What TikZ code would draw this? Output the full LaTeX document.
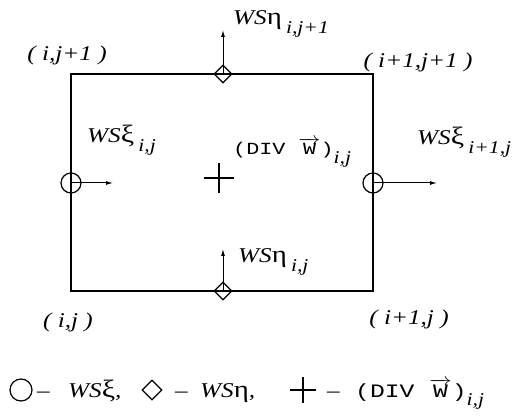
\documentclass[tikz,border=0pt]{standalone}
\usepackage{graphicx}
\usepackage{fontspec}
\setmainfont{Liberation Serif}
\setmonofont{Liberation Mono}
\usetikzlibrary{calc, positioning, shapes.geometric, arrows.meta}

\tikzset{
    lbl/.style={font=\fontsize{21}{24}\selectfont\itshape, inner sep=0pt},
    ximark/.style={circle, draw, line width=1.2pt, minimum size=20pt, inner sep=0pt},
    etamark/.style={diamond, draw, line width=1.2pt, minimum size=18pt, inner sep=0pt},
    flux/.style={-{Latex[length=7pt,width=4pt]}, line width=1pt}
}
\newcommand{\wide}[1]{\scalebox{1.2}[1]{#1}}
\newcommand{\wsxi}{\textit{WS}{\fontsize{25}{26}\selectfont\upshape ξ}}
\newcommand{\wseta}{\textit{WS}{\fontsize{24}{26}\selectfont\upshape η}}
\newcommand{\idx}[1]{\,\raisebox{-0.4em}{\fontsize{18}{20}\selectfont\itshape #1}}
\newcommand{\divw}[2]{\scalebox{#2}[1]{\fontsize{#1}{#1}\selectfont\ttfamily\upshape (DIV $\overrightarrow{\mbox{\ttfamily W}}$)}}

\begin{document}
\begin{tikzpicture}[x=1pt, y=-1pt]
    \useasboundingbox (0,0) rectangle (527,419);

    % cell corners
    \coordinate (SW) at (71,291);
    \coordinate (SE) at (373,291);
    \coordinate (NE) at (373,74);
    \coordinate (NW) at (71,74);

    % cell boundary
    \draw[line width=1.3pt] (SW) -- (SE) -- (NE) -- (NW) -- cycle;

    % face and centre points
    \node[ximark] (xl) at (71,183) {};
    \node[ximark] (xr) at (373,183) {};
    \node[etamark] (et) at (223,74) {};
    \node[etamark] (eb) at (223,291) {};
    \coordinate (cc) at (219,178);
    \draw[line width=2.6pt] ($(cc)+(-15,0)$) -- ($(cc)+(15,0)$);
    \draw[line width=2.6pt] ($(cc)+(0,-15)$) -- ($(cc)+(0,15)$);

    % flux arrows
    \coordinate (xlend) at (113,183);
    \coordinate (xrend) at (437,183);
    \coordinate (etend) at (223,30);
    \coordinate (ebend) at (223,249);
    \draw[flux] (xl.center) -- (xlend);
    \draw[flux] (xr.center) -- (xrend);
    \draw[flux] (et.center) -- (etend);
    \draw[flux] (eb.center) -- (ebend);

    % corner labels
    \node[lbl] (lNW) at (67,55) {\wide{( i,j+1 )}};
    \node[lbl] (lNE) at (418,62) {\wide{( i+1,j+1 )}};
    \node[lbl] (lSW) at (68,322) {\wide{( i,j )}};
    \node[lbl] (lSE) at (409,319) {\wide{( i+1,j )}};

    % flux labels
    \node[lbl, anchor=base west] (tet) at (233,25) {\wide{\wseta\idx{i,j+1}}};
    \node[lbl, anchor=base west] (teb) at (238,263) {\wide{\wseta\idx{i,j}}};
    \node[lbl, anchor=base west] (txl) at (87,143) {\wide{\wsxi\idx{i,j}}};
    \node[lbl, anchor=base west] (txr) at (417,145) {\wide{\wsxi\idx{i+1,j}}};
    \node[lbl, anchor=base west] (tdiv) at (233,155) {\divw{17}{1.28}\wide{\raisebox{-0.4em}{\fontsize{18}{20}\selectfont i,j}}};

    % legend
    \node[ximark, minimum size=22pt] (kxi) at (21,390) {};
    \node[lbl, anchor=base west] (kd1) at (37,397) {\wide{\textup{–}}};
    \node[lbl, anchor=base west] (kxit) at (68,397) {\wide{\wsxi,}};
    \node[etamark, minimum size=20pt] (keta) at (152,390) {};
    \node[lbl, anchor=base west] (kd2) at (175,397) {\wide{\textup{–}}};
    \node[lbl, anchor=base west] (ketat) at (200,397) {\wide{\wseta,}};
    \coordinate (kdiv) at (303,390);
    \draw[line width=2.6pt] ($(kdiv)+(-13,0)$) -- ($(kdiv)+(13,0)$);
    \draw[line width=2.6pt] ($(kdiv)+(0,-13)$) -- ($(kdiv)+(0,13)$);
    \node[lbl, anchor=base west] (kd3) at (327,397) {\wide{\textup{–}}};
    \node[lbl, anchor=base west] (kdivt) at (355,397) {\divw{19}{1.3}\wide{\raisebox{-0.4em}{\fontsize{18}{20}\selectfont i,j}}};
\end{tikzpicture}
\end{document}
